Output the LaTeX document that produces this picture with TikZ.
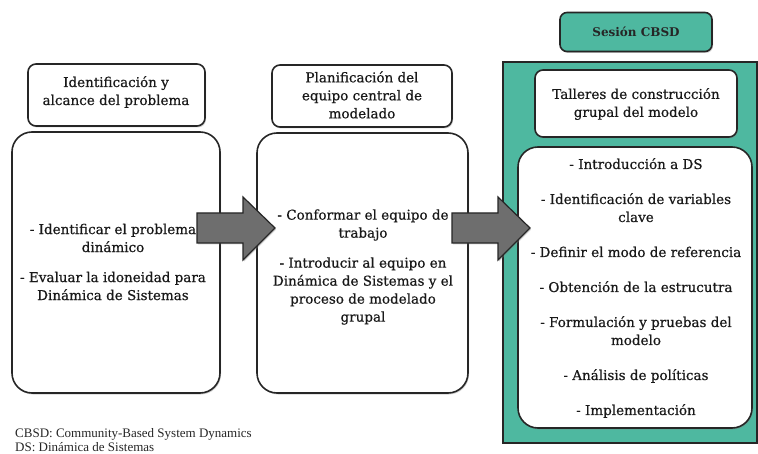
\documentclass[tikz,border=0pt]{standalone}
\usepackage{fontspec}
\setmainfont{Liberation Serif}
\newfontfamily\dvserif[FakeBold=0.6]{DejaVu Serif}
\newfontfamily\dvserifb{DejaVu Serif}
\usetikzlibrary{shadows}
\definecolor{teal1}{RGB}{78,184,160}
\definecolor{arrgray}{RGB}{110,110,110}
\begin{document}
\begin{tikzpicture}[x=1pt,y=-1pt,
  box/.style={draw=black!85, line width=1.6pt, fill=white, drop shadow={shadow xshift=1pt, shadow yshift=-1.5pt, opacity=0.35}},
  txt/.style={align=center, text=black!90, font=\dvserif\fontsize{13.5}{18}\selectfont},
  blockarrow/.style={draw=black!85, line width=1.2pt, fill=arrgray, line join=miter, drop shadow={shadow xshift=1pt, shadow yshift=-1.5pt, opacity=0.35}}
]
\useasboundingbox (0,0) rectangle (758,454);
% teal background panel
\path[draw=black!85, line width=1.4pt, fill=teal1] (503,62) rectangle (757,443);
\node[box, rounded corners=7pt, fill=teal1, minimum width=152pt, minimum height=39pt, text=black!85, font=\dvserifb\fontsize{12}{15}\selectfont\bfseries] (sesion) at (636,32) {Sesión CBSD};

% boxes column 1
\path[box, rounded corners=8pt] (28,64) rectangle (205,126);
\path[box, rounded corners=20pt] (12,132) rectangle (220,393);
% boxes column 2
\path[box, rounded corners=8pt] (272,65) rectangle (452,127);
\path[box, rounded corners=20pt] (257,133) rectangle (468,393);
% boxes column 3
\path[box, rounded corners=8pt] (535,70) rectangle (737,137);
\path[box, rounded corners=20pt] (518,147) rectangle (752,428);

% titles
\node[txt] (t1) at (116,92) {Identificación y\\alcance del problema};
\node[txt] (t2) at (362,95) {Planificación del\\equipo central de\\modelado};
\node[txt] (t3) at (636,104) {Talleres de construcción\\grupal del modelo};

% body texts
\node[txt] (b1) at (113,262) {- Identificar el problema\\dinámico\\[12pt]- Evaluar la idoneidad para\\Dinámica de Sistemas};
\node[txt] (b2) at (363,267) {- Conformar el equipo de\\trabajo\\[12pt]- Introducir al equipo en\\Dinámica de Sistemas y el\\proceso de modelado\\grupal};
\node[txt] (b3) at (636,288) {- Introducción a DS\\[17pt]- Identificación de variables\\clave\\[17pt]- Definir el modo de referencia\\[17pt]- Obtención de la estrucutra\\[17pt]- Formulación y pruebas del\\modelo\\[17pt]- Análisis de políticas\\[17pt]- Implementación};

% block arrows
\path[blockarrow] (197,213) -- (243,213) -- (243,197) -- (275,228) -- (243,260) -- (243,243) -- (197,243) -- cycle;
\path[blockarrow] (452,213) -- (498,213) -- (498,197) -- (530,228) -- (498,260) -- (498,243) -- (452,243) -- cycle;

% legend
\node[anchor=base west, align=left, inner sep=0pt, text=black!85, font=\fontsize{13}{14}\selectfont] (leg) at (15,451) {CBSD: Community-Based System Dynamics\\DS: Dinámica de Sistemas};
\end{tikzpicture}
\end{document}
